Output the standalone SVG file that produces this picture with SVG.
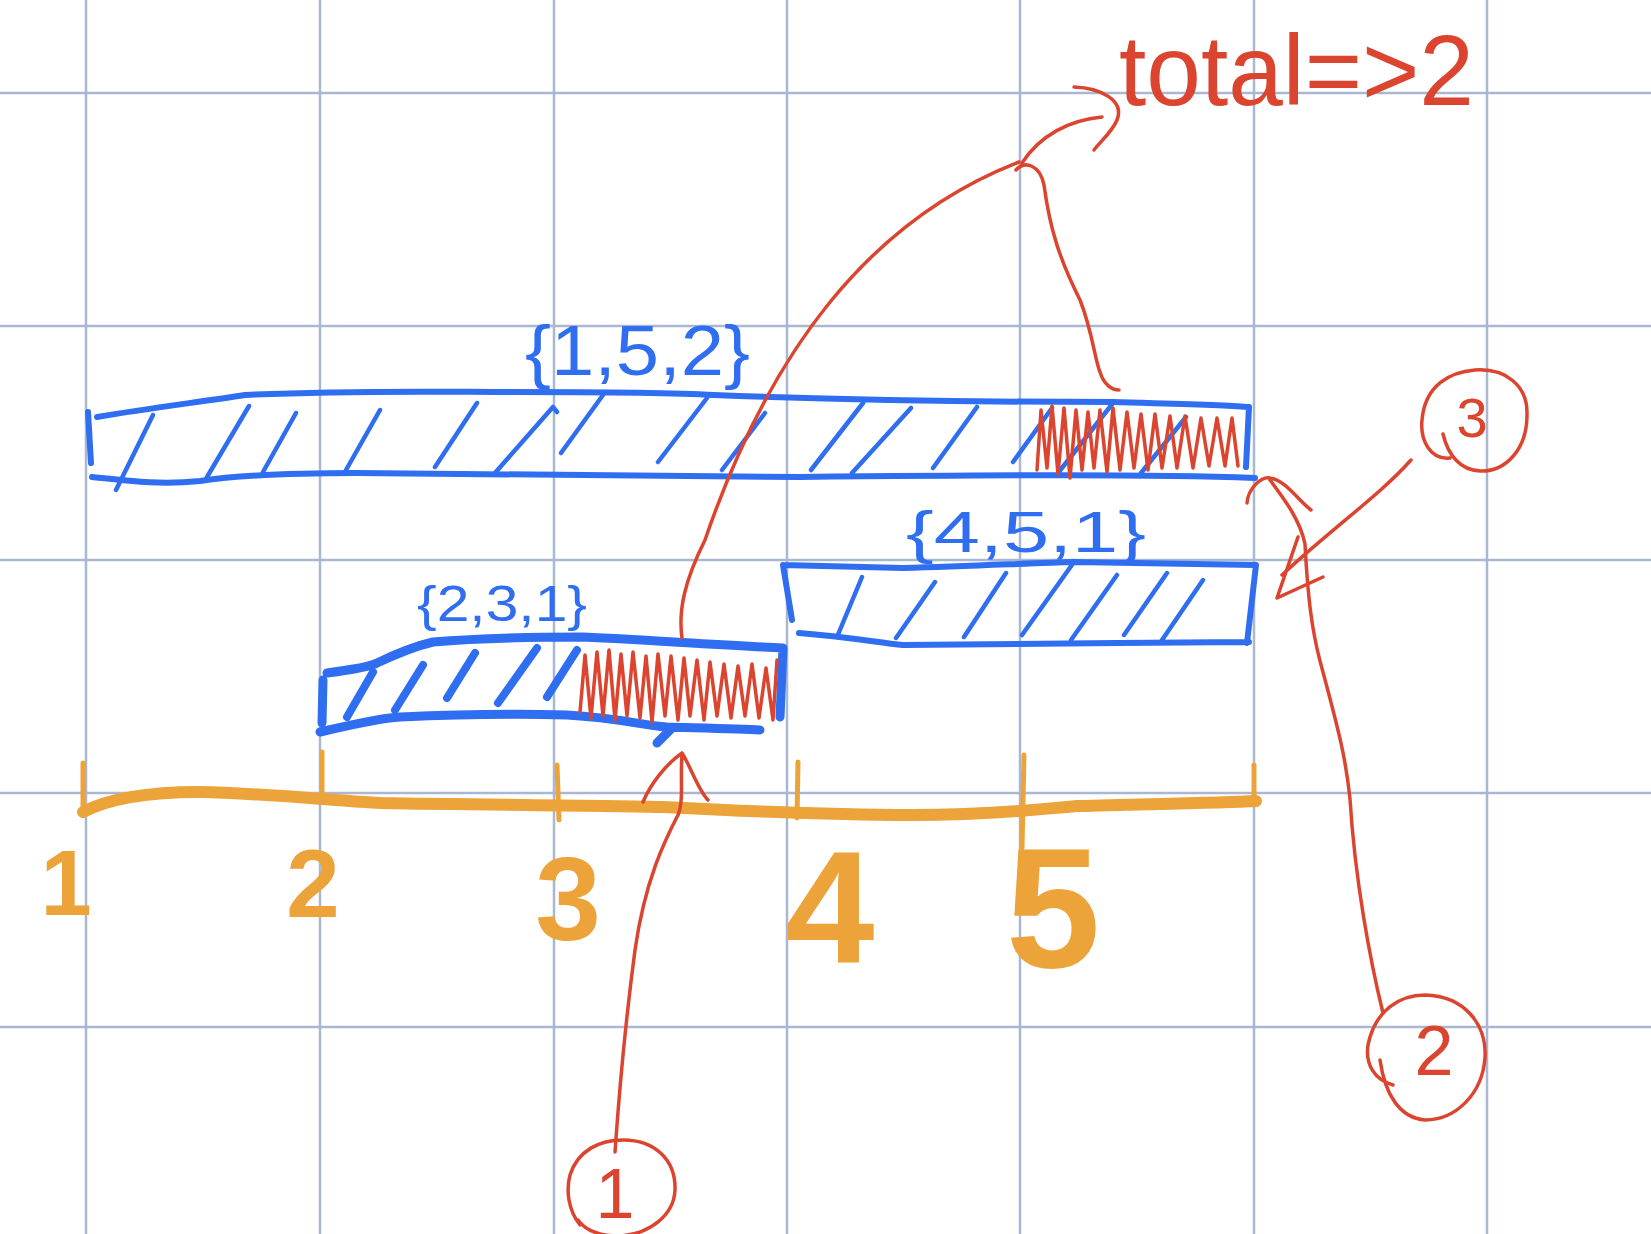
<svg xmlns="http://www.w3.org/2000/svg" width="1651" height="1234" viewBox="0 0 1651 1234">
<style>
.grid line{stroke:#a9b7d3;stroke-width:2.5}
.blue{fill:none;stroke:#2f6ef0;stroke-linecap:round;stroke-linejoin:round}
.red{fill:none;stroke:#db4530;stroke-width:3.5;stroke-linecap:round;stroke-linejoin:round}
.org{fill:none;stroke:#eca33a;stroke-linecap:round;stroke-linejoin:round}
.bt{fill:#2f6ef0;font-family:"Liberation Sans",Arial,sans-serif}
.rt{fill:#db4530;font-family:"Liberation Sans",Arial,sans-serif}
.ot{fill:#eca33a;font-family:"Liberation Sans",Arial,sans-serif;font-weight:bold;text-anchor:middle}
</style>
<rect width="1651" height="1234" fill="#ffffff"/>
<g class="grid" id="grid">
<line x1="86" y1="0" x2="86" y2="1234"/><line x1="320" y1="0" x2="320" y2="1234"/><line x1="554" y1="0" x2="554" y2="1234"/><line x1="787" y1="0" x2="787" y2="1234"/><line x1="1020" y1="0" x2="1020" y2="1234"/><line x1="1254" y1="0" x2="1254" y2="1234"/><line x1="1487" y1="0" x2="1487" y2="1234"/>
<line x1="0" y1="93" x2="1651" y2="93"/><line x1="0" y1="326" x2="1651" y2="326"/><line x1="0" y1="560" x2="1651" y2="560"/><line x1="0" y1="793" x2="1651" y2="793"/><line x1="0" y1="1027" x2="1651" y2="1027"/>
</g>

<g id="bar-1-5-2">
<path class="blue" stroke-width="6" d="M88,412 L91,463 M97,417 C150,408 200,402 245,395 C350,390 450,392 510,392 C600,392 680,393 714,395 C850,400 1000,402 1113,402 C1180,404 1230,405 1249,407 L1246,467 M92,477 C130,481 160,485 200,481 C240,475 300,473 357,473 L800,477 C1000,475 1150,474 1255,478"/>
<path class="blue" stroke-width="4.5" d="M116,490 L153,415 M207,477 L249,406 M263,472 L296,413 M346,470 L380,410 M435,467 L477,403 M495,473 L553,407 L557,412 M561,453 L603,395 M658,462 L707,398 M722,470 L765,413 M811,470 L863,403 M852,473 L911,408 M933,468 L977,407 M1013,462 L1052,408 M1058,473 L1113,403 M1141,473 L1186,417"/>
<polyline class="red" stroke-width="4.5" points="1037,470 1041,410 1047,468 1052,406 1058,474 1064,408 1070,478 1076,410 1082,470 1088,412 1094,468 1100,410 1107,472 1113,408 1120,470 1127,412 1134,468 1141,414 1148,470 1155,414 1162,468 1170,416 1177,468 1185,416 1193,468 1201,418 1209,466 1217,418 1225,466 1232,418 1238,466"/>
<text class="bt" x="525" y="375" font-size="70" textLength="225" lengthAdjust="spacingAndGlyphs">{1,5,2}</text>
</g>

<g id="bar-2-3-1">
<path class="blue" stroke-width="9" d="M323,680 L322,723 M327,673 C350,670 370,667 377,663 C400,652 420,645 433,642 C480,638 540,637 583,637 C650,640 720,645 783,648 L780,717 M320,732 C350,725 380,718 400,717 C470,714 530,714 567,715 C620,718 640,725 667,727 C700,728 740,729 760,730 M657,743 L672,728"/>
<path class="blue" stroke-width="8" d="M347,717 L373,672 M395,710 L423,665 M447,698 L475,653 M498,703 L537,648 M547,697 L577,650"/>
<polyline class="red" stroke-width="5" points="580,712 585,655 591,718 597,652 603,716 609,650 615,720 621,654 627,716 633,652 640,718 646,656 652,722 658,654 665,716 671,656 678,720 684,658 690,716 697,660 704,720 710,662 717,716 724,664 731,718 738,666 745,716 752,664 759,718 766,668 773,720 777,660"/>
<text class="bt" x="417" y="621" font-size="50" textLength="170" lengthAdjust="spacingAndGlyphs">{2,3,1}</text>
</g>

<g id="bar-4-5-1">
<path class="blue" stroke-width="6" d="M783,565 L792,620 M783,565 C850,567 900,568 903,568 C980,566 1030,563 1074,562 L1256,565 L1247,643 M799,633 C850,637 880,643 903,645 C1000,644 1080,643 1117,643 L1249,642"/>
<path class="blue" stroke-width="4.5" d="M837,637 L862,577 M896,638 L935,582 M964,637 L1006,573 M1022,635 L1074,562 M1071,640 L1117,575 M1124,635 L1167,573 M1160,643 L1203,580"/>
<text class="bt" x="906" y="552" font-size="58" textLength="240" lengthAdjust="spacingAndGlyphs">{4,5,1}</text>
</g>

<g id="axis">
<path class="org" stroke-width="12" d="M83,812 C110,798 150,792 199,792 C260,793 330,800 381,803 C480,805 600,805 663,807 C760,812 850,815 912,815 C1000,815 1050,808 1078,806 C1150,804 1220,803 1256,801"/>
<path class="org" stroke-width="5" d="M83,763 L83,815 M322,752 L322,795 M557,765 L559,820 M798,762 L797,818 M1024,755 L1022,848 M1254,765 L1254,805"/>
<text class="ot" x="66" y="915" font-size="92">1</text>
<text class="ot" x="313" y="917" font-size="96">2</text>
<text class="ot" x="568" y="940" font-size="118">3</text>
<text class="ot" x="830" y="962" font-size="160">4</text>
<text class="ot" x="1053" y="967" font-size="170">5</text>
</g>

<g id="total-label">
<text class="rt" x="1119" y="105" font-size="100" textLength="355" lengthAdjust="spacingAndGlyphs">total=&gt;2</text>
</g>

<g id="circle-1">
<path class="red" d="M580,1225 C568,1210 566,1190 570,1175 C578,1150 600,1140 623,1140 C655,1140 676,1160 675,1190 C674,1215 650,1234 620,1236 C600,1236 585,1230 578,1220"/>
<text class="rt" x="615" y="1218" font-size="70" text-anchor="middle">1</text>
</g>
<g id="circle-2">
<path class="red" d="M1393,1085 C1375,1080 1365,1065 1368,1045 C1375,1010 1400,995 1425,995 C1465,996 1487,1025 1485,1058 C1482,1095 1455,1120 1425,1120 C1400,1118 1385,1095 1380,1060"/>
<text class="rt" x="1434" y="1075" font-size="70" text-anchor="middle">2</text>
</g>
<g id="circle-3">
<path class="red" d="M1450,458 C1430,460 1420,440 1422,420 C1425,385 1450,372 1475,370 C1505,368 1528,385 1527,415 C1527,450 1505,472 1480,471 C1460,470 1448,455 1443,434"/>
<text class="rt" x="1472" y="437" font-size="56" text-anchor="middle">3</text>
</g>

<g id="connectors">
<path class="red" d="M682,638 C678,610 685,580 705,540 C770,350 870,220 1019,162"/>
<path class="red" d="M1016,170 C1025,160 1040,165 1044,185 C1050,230 1060,260 1080,300 C1092,330 1095,360 1100,372 C1104,385 1112,390 1119,390"/>
<path class="red" d="M1022,163 C1040,135 1070,120 1102,117 M1074,87 C1100,88 1125,100 1117,120 C1112,132 1100,142 1094,150"/>
<path class="red" d="M1383,1013 C1370,960 1355,880 1350,799 C1346,760 1340,735 1320,661 C1312,630 1308,600 1305,544 C1300,520 1285,500 1270,480 M1270,478 C1262,476 1248,488 1247,503 M1270,478 C1285,480 1298,500 1311,510"/>
<path class="red" d="M1411,460 C1380,495 1330,530 1282,575 M1298,537 L1277,598 L1323,577"/>
<path class="red" d="M615,1152 C620,1080 627,1010 635,950 C645,880 665,840 678,815 C684,800 680,780 682,755 M682,753 C665,765 650,785 643,802 M682,753 C690,765 698,790 708,800"/>
</g>
</svg>
